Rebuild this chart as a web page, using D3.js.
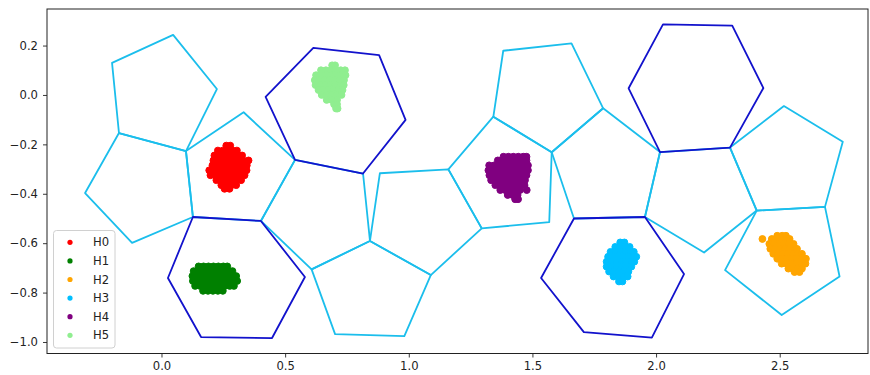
<!DOCTYPE html>
<html>
<head>
<meta charset="utf-8">
<script src="https://cdn.jsdelivr.net/npm/d3@7"></script>
<style>
  body { margin: 0; background: #fff; }
  text { font-family: "DejaVu Sans", sans-serif; }
</style>
</head>
<body>
<svg id="chart"></svg>
<script>
// tick values
var xTicks = [0.0, 0.5, 1.0, 1.5, 2.0, 2.5];
var yTicks = [0.2, 0.0, -0.2, -0.4, -0.6, -0.8, -1.0];

// legend labels
var labels = ["H0", "H1", "H2", "H3", "H4", "H5"];

// pentagons (light blue), vertices in data units
var pentagons = [
  [[-0.200, 0.130], [0.047, 0.243], [0.224, 0.024], [0.099, -0.227], [-0.172, -0.154]],
  [[-0.172, -0.154], [0.099, -0.227], [0.127, -0.494], [-0.119, -0.599], [-0.309, -0.397]],
  [[0.099, -0.227], [0.332, -0.070], [0.540, -0.263], [0.402, -0.510], [0.127, -0.494]],
  [[0.540, -0.263], [0.815, -0.318], [0.843, -0.591], [0.607, -0.706], [0.402, -0.510]],
  [[0.883, -0.317], [1.160, -0.301], [1.295, -0.540], [1.089, -0.729], [0.843, -0.591]],
  [[0.607, -0.706], [0.843, -0.591], [1.089, -0.729], [0.982, -0.976], [0.702, -0.968]],
  [[1.160, -0.301], [1.342, -0.088], [1.578, -0.232], [1.568, -0.515], [1.295, -0.540]],
  [[1.342, -0.088], [1.382, 0.179], [1.658, 0.209], [1.786, -0.054], [1.578, -0.232]],
  [[1.578, -0.232], [1.786, -0.054], [2.016, -0.231], [1.955, -0.494], [1.668, -0.500]],
  [[2.016, -0.231], [2.299, -0.213], [2.407, -0.468], [2.194, -0.638], [1.955, -0.494]],
  [[2.299, -0.213], [2.517, -0.045], [2.755, -0.189], [2.683, -0.453], [2.407, -0.468]],
  [[2.407, -0.468], [2.683, -0.453], [2.742, -0.735], [2.508, -0.891], [2.279, -0.709]]
];

// hexagons (dark blue)
var hexagons = [
  [[0.127, -0.494], [0.402, -0.510], [0.580, -0.737], [0.447, -0.984], [0.160, -0.980], [0.026, -0.741]],
  [[0.421, -0.008], [0.614, 0.191], [0.880, 0.161], [0.987, -0.101], [0.815, -0.318], [0.540, -0.263]],
  [[1.668, -0.500], [1.955, -0.494], [2.113, -0.725], [1.983, -0.982], [1.708, -0.960], [1.535, -0.741]],
  [[1.889, 0.027], [2.028, 0.286], [2.308, 0.281], [2.434, 0.028], [2.299, -0.213], [2.016, -0.231]]
];

// scatter points, one row = [y, [x, x, ...]]
var h0Rows = [
  [-0.205, [0.262, 0.278]],
  [-0.225, [0.228, 0.248, 0.268, 0.288, 0.305]],
  [-0.245, [0.214, 0.232, 0.252, 0.272, 0.292, 0.312, 0.326]],
  [-0.265, [0.21, 0.23, 0.25, 0.27, 0.29, 0.31, 0.33, 0.352]],
  [-0.285, [0.206, 0.225, 0.245, 0.265, 0.285, 0.305, 0.325, 0.345]],
  [-0.305, [0.193, 0.212, 0.232, 0.252, 0.272, 0.292, 0.312, 0.332, 0.344]],
  [-0.325, [0.198, 0.218, 0.238, 0.258, 0.278, 0.298, 0.318, 0.336]],
  [-0.345, [0.222, 0.242, 0.262, 0.282, 0.302, 0.322]],
  [-0.365, [0.242, 0.262, 0.282, 0.302]],
  [-0.38, [0.255, 0.275]]
];
var h1Rows = [
  [-0.694, [0.15, 0.17, 0.19, 0.21, 0.23, 0.25, 0.266]],
  [-0.713, [0.13, 0.15, 0.17, 0.19, 0.21, 0.23, 0.25, 0.27, 0.287]],
  [-0.733, [0.125, 0.145, 0.165, 0.185, 0.205, 0.225, 0.245, 0.265, 0.285, 0.302]],
  [-0.753, [0.127, 0.147, 0.167, 0.187, 0.207, 0.227, 0.247, 0.267, 0.287, 0.306]],
  [-0.773, [0.136, 0.156, 0.176, 0.196, 0.216, 0.236, 0.256, 0.276, 0.293]],
  [-0.793, [0.168, 0.188, 0.208, 0.228, 0.248]]
];
var h2Rows = [
  [-0.57, [2.49, 2.51, 2.525]],
  [-0.583, [2.43, 2.468, 2.488, 2.508, 2.528, 2.54]],
  [-0.603, [2.458, 2.478, 2.498, 2.518, 2.538, 2.556]],
  [-0.623, [2.462, 2.482, 2.502, 2.522, 2.542, 2.562, 2.57]],
  [-0.643, [2.474, 2.494, 2.514, 2.534, 2.554, 2.574, 2.59]],
  [-0.663, [2.49, 2.51, 2.53, 2.55, 2.57, 2.59, 2.606]],
  [-0.683, [2.508, 2.528, 2.548, 2.568, 2.588, 2.604]],
  [-0.703, [2.535, 2.555, 2.575, 2.59]],
  [-0.717, [2.56, 2.58]]
];
var h3Rows = [
  [-0.597, [1.855, 1.872]],
  [-0.615, [1.835, 1.855, 1.875, 1.893]],
  [-0.635, [1.816, 1.836, 1.856, 1.876, 1.896, 1.91]],
  [-0.655, [1.806, 1.826, 1.846, 1.866, 1.886, 1.906, 1.92]],
  [-0.675, [1.80, 1.82, 1.84, 1.86, 1.88, 1.90, 1.912]],
  [-0.695, [1.80, 1.82, 1.84, 1.86, 1.88, 1.90]],
  [-0.715, [1.81, 1.83, 1.85, 1.87, 1.888]],
  [-0.735, [1.828, 1.848, 1.868, 1.885]],
  [-0.755, [1.85, 1.864]]
];
var h4Rows = [
  [-0.25, [1.383, 1.403, 1.423, 1.443, 1.463, 1.476]],
  [-0.265, [1.36, 1.38, 1.40, 1.42, 1.44, 1.46, 1.476]],
  [-0.285, [1.325, 1.345, 1.365, 1.385, 1.405, 1.425, 1.445, 1.465, 1.482]],
  [-0.305, [1.322, 1.342, 1.362, 1.382, 1.402, 1.422, 1.442, 1.462, 1.482]],
  [-0.325, [1.326, 1.346, 1.366, 1.386, 1.406, 1.426, 1.446, 1.466, 1.476]],
  [-0.345, [1.333, 1.353, 1.373, 1.393, 1.413, 1.433, 1.453, 1.47]],
  [-0.365, [1.35, 1.37, 1.39, 1.41, 1.43, 1.45, 1.468]],
  [-0.385, [1.37, 1.39, 1.41, 1.43, 1.45, 1.477]],
  [-0.405, [1.40, 1.42, 1.44]],
  [-0.422, [1.43, 1.442]]
];
var h5Rows = [
  [0.12, [0.69, 0.702]],
  [0.10, [0.645, 0.665, 0.685, 0.705, 0.725, 0.742]],
  [0.08, [0.625, 0.645, 0.665, 0.685, 0.705, 0.725, 0.744]],
  [0.06, [0.62, 0.64, 0.66, 0.68, 0.70, 0.72, 0.738]],
  [0.04, [0.623, 0.643, 0.663, 0.683, 0.703, 0.723, 0.737]],
  [0.02, [0.635, 0.655, 0.675, 0.695, 0.715, 0.732]],
  [0.00, [0.648, 0.668, 0.688, 0.708, 0.728]],
  [-0.02, [0.668, 0.688, 0.71]],
  [-0.038, [0.698, 0.71]],
  [-0.055, [0.706, 0.712]]
];

var clusters = [h0Rows, h1Rows, h2Rows, h3Rows, h4Rows, h5Rows];
var colors = ["red", "green", "orange", "deepskyblue", "purple", "lightgreen"];

var svgWidth = 870, svgHeight = 375;
var margin = { top: 9, right: 2, bottom: 21.5, left: 47 };
var width = svgWidth - margin.left - margin.right;
var height = svgHeight - margin.top - margin.bottom;

var svg = d3.select("#chart")
  .attr("width", svgWidth)
  .attr("height", svgHeight);

var g = svg.append("g")
  .attr("transform", "translate(" + margin.left + "," + margin.top + ")");

var x = d3.scaleLinear().domain([-0.463, 2.857]).range([0, width]);
var y = d3.scaleLinear().domain([-1.0466, 0.348]).range([height, 0]);

var line = d3.line()
  .x(function(d) { return x(d[0]); })
  .y(function(d) { return y(d[1]); })
  .curve(d3.curveLinearClosed);

// polygons
g.selectAll("path.penta")
  .data(pentagons)
  .enter().append("path")
  .attr("class", "penta")
  .attr("d", line)
  .attr("fill", "none")
  .attr("stroke", "#1bbeec")
  .attr("stroke-width", 1.8)
  .attr("stroke-linejoin", "round");

g.selectAll("path.hexa")
  .data(hexagons)
  .enter().append("path")
  .attr("class", "hexa")
  .attr("d", line)
  .attr("fill", "none")
  .attr("stroke", "#1212cc")
  .attr("stroke-width", 1.8)
  .attr("stroke-linejoin", "round");

// scatter clusters
clusters.forEach(function(rows, i) {
  var pts = [];
  rows.forEach(function(r) {
    r[1].forEach(function(v) { pts.push([v, r[0]]); });
  });
  g.append("g").selectAll("circle")
    .data(pts)
    .enter().append("circle")
    .attr("cx", function(d) { return x(d[0]); })
    .attr("cy", function(d) { return y(d[1]); })
    .attr("r", 3.4)
    .attr("fill", colors[i])
    .attr("stroke", colors[i])
    .attr("stroke-width", 1);
});

// axes
var fmt = d3.format(".1f");
var xAxis = g.append("g")
  .attr("transform", "translate(0," + height + ")")
  .call(d3.axisBottom(x).tickValues(xTicks).tickFormat(fmt).tickSize(4).tickPadding(4.5));
var yAxis = g.append("g")
  .call(d3.axisLeft(y).tickValues(yTicks).tickFormat(fmt).tickSize(4).tickPadding(5));

[xAxis, yAxis].forEach(function(a) {
  a.select(".domain").remove();
  a.selectAll("line").attr("stroke", "#222").attr("stroke-width", 0.9);
  a.selectAll("text")
    .attr("fill", "#222")
    .style("font-size", "11.6px")
    .style("font-family", "DejaVu Sans");
});

// frame
g.append("rect")
  .attr("x", 0).attr("y", 0)
  .attr("width", width).attr("height", height)
  .attr("fill", "none")
  .attr("stroke", "#222")
  .attr("stroke-width", 1);

// legend
var leg = g.append("g").attr("transform", "translate(" + 6.5 + "," + 221.5 + ")");
leg.append("rect")
  .attr("width", 61.5).attr("height", 117.5)
  .attr("rx", 3)
  .attr("fill", "white").attr("fill-opacity", 0.8)
  .attr("stroke", "#d0d0d0").attr("stroke-width", 1);

var items = leg.selectAll("g.item")
  .data(labels)
  .enter().append("g")
  .attr("class", "item")
  .attr("transform", function(d, i) { return "translate(0," + (11.8 + 18.6 * i) + ")"; });

items.append("circle")
  .attr("cx", 16.5).attr("cy", 0).attr("r", 2.6)
  .attr("fill", function(d, i) { return colors[i]; });

items.append("text")
  .attr("x", 39.5).attr("y", 0).attr("dy", "0.36em")
  .attr("fill", "#222")
  .style("font-size", "11.6px")
  .text(function(d) { return d; });
</script>
</body>
</html>
